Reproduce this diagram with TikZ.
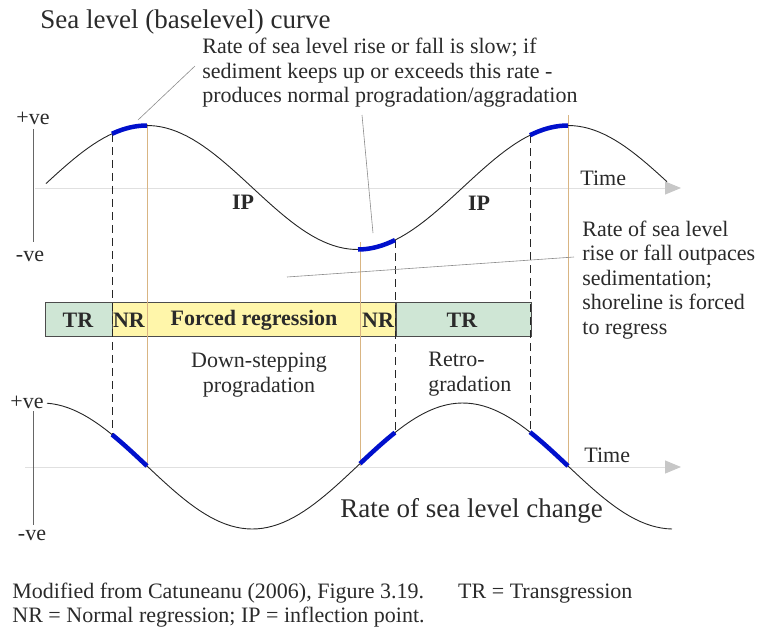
\documentclass[tikz,border=0pt]{standalone}
\usepackage{fontspec}
\setmainfont{Liberation Serif}
\usetikzlibrary{arrows.meta}
\definecolor{TRgreen}{HTML}{CFE6D5}
\definecolor{NRyellow}{HTML}{FFF6AA}
\definecolor{NRblue}{HTML}{0010CC}
\definecolor{Tan}{HTML}{D9B583}
\definecolor{AxisGray}{HTML}{E0E0E0}
\definecolor{Ink}{HTML}{2A2A2A}
\newcommand{\sealevel}[1]{187.5-62*cos(0.85511*(#1-147))}
\newcommand{\slrate}[1]{466+63*sin(0.85511*(#1-147))}

\begin{document}
\begin{tikzpicture}[x=1pt, y=-1pt, inner sep=0pt, thick, text=Ink,
  big/.style={font=\fontsize{27}{30}\selectfont},
  txt/.style={font=\fontsize{22}{24.6}\selectfont, align=left},
  bold/.style={font=\fontsize{22}{24}\selectfont\bfseries},
  box/.style={draw=black!70, line width=1pt, minimum height=34pt},
  curve/.style={black!85, line width=0.9pt},
  nr/.style={NRblue, line width=4.5pt},
  leader/.style={black!45, line width=0.6pt},
  axis/.style={AxisGray, line width=1pt, -{Triangle[length=16pt,width=13pt,color=black!22,fill=black!22]}},
  yaxis/.style={black!60, line width=0.8pt},
  cut/.style={black!85, line width=0.9pt, dash pattern=on 8pt off 5pt},
  turn/.style={Tan, line width=0.8pt}]
  \useasboundingbox (0,0) rectangle (768,635);

  % texts
  \path node (title) at (40,22)  [anchor=west, big] {Sea level (baselevel) curve}
        node (slow)  at (202,73) [anchor=west, txt] {Rate of sea level rise or fall is slow; if\\
                                                    sediment keeps up or exceeds this rate -\\
                                                    produces normal progradation/aggradation}
        node (fast)  at (582,280) [anchor=west, txt] {Rate of sea level\\
                                                     rise or fall outpaces\\
                                                     sedimentation;\\
                                                     shoreline is forced\\
                                                     to regress}
        node (ptop)  at (33,118) [txt] {+ve}
        node (ntop)  at (30,256) [txt] {-ve}
        node (pbot)  at (27,402) [txt] {+ve}
        node (nbot)  at (32,535) [txt] {-ve}
        node (ip1)   at (243,202) [bold] {IP}
        node (ip2)   at (479,203) [bold] {IP}
        node (time1) at (580,178) [anchor=west, txt] {Time}
        node (time2) at (584,455) [anchor=west, txt] {Time}
        node (down)  at (259,375) [txt, align=center] {Down-stepping\\ progradation}
        node (retro) at (428,374) [anchor=west, txt] {Retro-\\ gradation}
        node (rate)  at (340,511) [anchor=west, big] {Rate of sea level change}
        node (note)  at (12,605) [anchor=west, txt]
              {Modified from Catuneanu (2006), Figure 3.19.\hspace{34pt}TR = Transgression\\
               NR = Normal regression; IP = inflection point.};

  % systems tract bar
  \path node (tr1) at (78.5,319)   [box, fill=TRgreen, minimum width=67pt] {}
        node (nr)  at (253.5,319)  [box, fill=NRyellow, minimum width=283pt] {}
        node (tr2) at (463.5,319)  [box, fill=TRgreen, minimum width=135pt] {}
        node at (78,320)  [bold] {TR}
        node at (129,320) [bold] {NR}
        node at (254,320) [bold] {Forced regression}
        node at (378,320) [bold] {NR}
        node at (462,320) [bold] {TR};

  % axes
  \coordinate (a1) at (35,188);  \coordinate (b1) at (681,188);
  \coordinate (a2) at (25,467);  \coordinate (b2) at (681,467);
  \draw[axis] (a1) -- (b1);
  \draw[axis] (a2) -- (b2);
  \draw[yaxis] (33,129) -- (33,242);
  \draw[yaxis] (33,411) -- (33,525);

  % turning points and NR limits
  \draw[turn] (147,124) -- (147,466)
              (360,242) -- (360,466)
              (568,115) -- (568,466);
  \draw[cut] (112,{\sealevel{112}}) -- (112,{\slrate{112}})
             (395,{\sealevel{395}}) -- (395,{\slrate{395}})
             (530,{\sealevel{530}}) -- (530,{\slrate{530}});

  % curves
  \draw[curve] plot[domain=46:667, samples=120] (\x,{\sealevel{\x}});
  \draw[curve] plot[domain=47:672, samples=120] (\x,{\slrate{\x}});
  \draw[nr] plot[domain=112:147, samples=15] (\x,{\sealevel{\x}})
            plot[domain=358:395, samples=15] (\x,{\sealevel{\x}})
            plot[domain=530:568, samples=15] (\x,{\sealevel{\x}});
  \draw[nr] plot[domain=112:147, samples=15] (\x,{\slrate{\x}})
            plot[domain=360:395, samples=15] (\x,{\slrate{\x}})
            plot[domain=530:568, samples=15] (\x,{\slrate{\x}});

  % leaders
  \coordinate (l1) at (138,120);
  \coordinate (l2) at (362,115);
  \coordinate (l3) at (373,233);
  \coordinate (l4) at (287,277);
  \coordinate (l5) at (574,257);
  \draw[leader] (l1) -- (195,66);
  \draw[leader] (l2) -- (l3);
  \draw[leader] (l4) -- (l5);
\end{tikzpicture}
\end{document}
